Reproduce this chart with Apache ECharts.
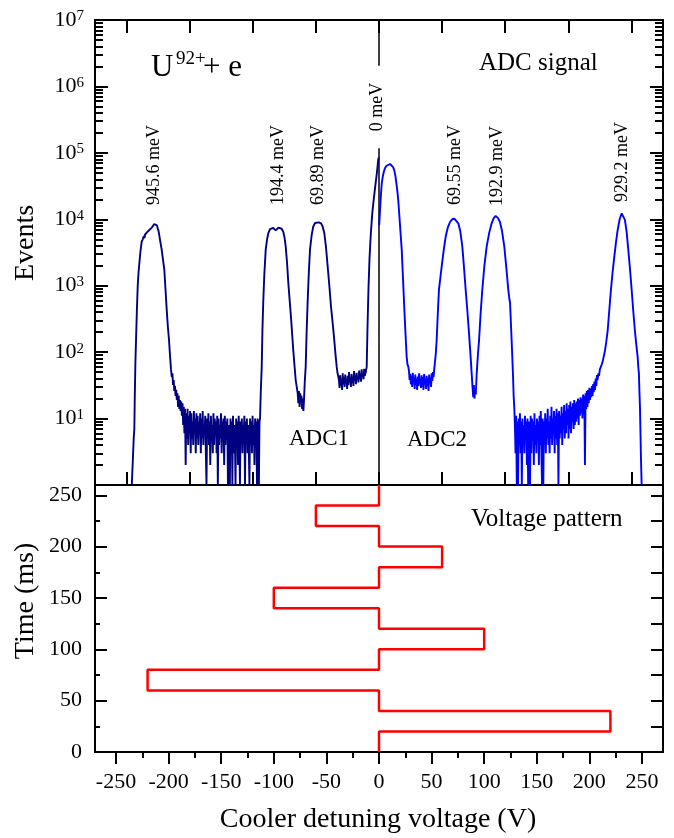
<!DOCTYPE html>
<html>
<head>
<meta charset="utf-8">
<style type="text/css">
body{margin:0; background:#fff}
#chart{width:674px; height:838px}
</style>
</head>
<body>
<div id="chart"></div>
<script src="https://cdn.jsdelivr.net/npm/echarts@6.0.0/dist/echarts.min.js"></script>
<script type="text/javascript">
// ADC1 spectrum (cooler detuning voltage V, events)
var adc1Rise = [[-235,1],[-233.8,1],[-233.2,5],[-232.6,7],[-232.2,20],[-231.6,70],[-231.0,150],[-230.2,420],
  [-229.4,980],[-228.6,1600],[-227.8,2200],[-226.8,3300],[-225.6,4600],[-224.6,5000],[-223.6,5600],[-223.0,5200],
  [-222.4,5900],[-221.4,6100],[-220.4,6400],[-219.2,6500],[-218.4,6900],[-217.2,7000],[-216.0,7500],[-214.8,8000],
  [-213.6,8500],[-212.9,8700],[-212.2,8300],[-211.2,8100],[-210.4,7300],[-209.6,6700],[-208.6,5400],[-207.6,4300],
  [-206.6,3500],[-205.4,2500],[-204.1,1740],[-203.0,900],[-201.8,430],[-200.8,250],[-199.6,150],[-198.6,85],
  [-197.7,54],[-197.0,42],[-196.4,48],[-195.8,32],[-195.2,38],[-194.6,26],[-194.0,31],[-193.4,22],[-192.8,27],
  [-192.2,19],[-191.6,24],[-191.0,15],[-190.4,22],[-189.8,14],[-189.2,19],[-188.6,13],[-188.0,18],[-187.4,11],
  [-186.8,17],[-186.2,8],[-185.6,15],[-185.0,6],[-184.4,14]];
var adc1FloorStart = -183.8;
var adc1Floor = [2,12,5,14,4,11,6,13,3,12,5,9,4,13,6,10,3,12,5,11,4,9,6,12,3,10,5,13,4,8,6,11,3,1,10,5,12,4,9,2,
  11,5,8,3,12,4,10,6,9,3,11,1,10,4,8,5,12,3,9,6,10,2,11,4,9,5,10,1,8,4,1,10,5,9,1,11,3,8,5,1,10,4,9,2,11,5,1,9,4,
  10,3,8,6,11,1,9,5,10,3,8,4,1,10,5,9,3,11,4,8,2,10,5,9,1,10,4,1,9];
var adc1Peaks = [[-113.1,10],[-112.4,25],[-111.5,60],[-110.8,220],[-110.0,600],[-109.0,1500],[-107.7,3500],
  [-106.4,5000],[-105.2,6200],[-103.6,7100],[-102.0,7600],[-100.6,7400],[-99.4,7000],[-98.2,6800],[-97.0,7100],
  [-95.6,7500],[-94.1,7600],[-92.6,7200],[-91.0,6500],[-89.8,5300],[-88.7,3900],[-87.4,2200],[-86.2,1100],
  [-85.0,620],[-83.7,340],[-82.6,190],[-81.5,107],[-80.3,62],[-79.2,38],[-78.2,30],[-77.3,24],[-76.7,17],
  [-76.1,26],[-75.5,15],[-74.9,24],[-74.3,18],[-73.7,22],[-73.1,14],[-72.5,20],[-71.9,13],[-71.3,19],[-70.6,35],
  [-69.7,60],[-68.8,200],[-67.8,600],[-66.7,1600],[-65.6,3500],[-64.0,5800],[-62.5,7800],[-60.8,8800],[-59.2,9100],
  [-57.2,9000],[-55.1,8700],[-53.6,7800],[-52.0,6200],[-50.4,3800],[-48.8,1950],[-47.2,1000],[-45.6,480],
  [-44.0,270],[-42.5,150],[-41.3,90],[-40.2,60],[-39.4,48],[-38.7,43]];
var adc1ShelfStart = -38.1;
var adc1Shelf = [38,29,45,31,40,27,48,33,42,30,46,35,39,28,44,32,50,36,41,30,47,34,43,31,52,37,45,33,49,38,44,35,
  53,40,47,36,55,42,48,39,56,44];
var adc1Center = [[-12.6,50],[-11.7,60],[-10.9,250],[-10.0,900],[-9.0,2600],[-7.8,6000],[-6.4,12300],
  [-5.0,20000],[-3.5,32000],[-2.0,50000],[-0.7,80000],[-0.2,85000]];

// ADC2 spectrum
var adc2Center = [[0.2,8200],[1.0,14000],[1.8,23000],[2.6,34700],[3.6,44000],[4.6,52000],[5.7,59000],[7.2,64000],
  [8.8,67000],[10.5,68000],[12.2,66000],[13.4,61000],[14.5,55000],[15.6,45000],[16.6,34000],[17.5,26000],
  [18.3,19500],[19.4,11000],[20.5,6200],[21.6,3500],[22.8,1300],[24.0,480],[25.2,190],[26.3,85],[27.1,65],[27.9,60]];
var adc2ShelfStart = 28.5;
var adc2Shelf = [52,38,47,33,44,30,49,35,41,28,46,32,40,27,43,31,48,34,39,29,45,30,42,27,47,33,38,28,44,31,40,26,
  46,34,41,30,48,37,50,42,55];
var adc2Peaks = [[53.2,58],[54.0,95],[54.8,150],[55.9,380],[57.0,870],[58.3,1300],[59.6,1950],[61.5,3400],
  [63.4,5500],[65.4,7500],[67.5,9100],[69.6,10000],[71.6,10200],[73.5,9800],[75.4,8700],[77.3,6600],[79.2,3900],
  [80.8,1900],[82.4,870],[84.0,420],[85.6,190],[86.9,95],[88.1,48],[88.9,30],[89.6,21],[90.2,32],[90.8,20],
  [91.4,28],[92.0,23],[92.9,48],[94.0,90],[95.1,150],[96.6,380],[98.2,870],[100.2,2000],[102.4,3900],[104.8,6300],
  [107.1,8700],[109.0,10400],[110.9,11200],[113.0,10500],[115.0,9100],[117.0,6600],[119.1,3900],[121.0,1900],
  [122.9,870],[124.0,620],[124.6,560],[125.3,300],[126.1,150],[127.4,45],[128.0,22],[128.6,15]];
var adc2FloorStart = 129.2;
var adc2Floor = [8,3,11,1,9,1,10,4,12,3,9,1,10,4,8,3,11,5,9,2,10,1,9,4,1,11,3,10,5,9,2,12,4,8,3,10,5,9,2,11,4,13,
  3,1,10,1,9,4,12,3,10,5,14,4,9,3,11,5,15,4,10,6,13,3,11,5,14,4,12,1,13,5,11,6,15,4,12,7,16,5,13,6,17,8,14,5,16,7,
  18,6,15,9,17,7,19,8];
var adc2Tail = [[186.8,17],[187.4,9],[188.0,18],[188.6,10],[189.2,20],[189.8,8],[190.4,19],[191.0,11],[191.6,21],
  [192.2,12],[192.8,20],[193.4,10],[194.0,23],[194.6,12],[195.2,22],[195.8,2],[196.4,24],[197.0,14],[197.6,26],
  [198.2,15],[198.8,27],[199.4,17],[200.0,29],[200.6,19],[201.2,28],[201.8,21],[202.4,31],[203.0,22],[203.6,33],
  [204.2,25],[204.8,36],[205.4,27],[206.0,40],[206.6,31],[207.2,45],[207.8,38],[208.5,48],[209.2,44],[210.0,55],
  [210.8,52],[211.7,65],[212.6,72],[213.6,85],[214.8,105],[216.0,140],[217.4,210],[218.9,420],[220.5,870],
  [222.1,1600],[223.7,2750],[225.3,4500],[226.9,6900],[228.8,10000],[230.7,12300],[232.3,11700],[233.8,9800],
  [235.4,6500],[237.0,3500],[238.6,1800],[240.2,870],[241.7,420],[243.3,210],[244.6,130],[245.9,85],[246.5,60],
  [247.1,48],[247.6,25],[248.1,15],[248.6,6],[249.0,2.7],[249.7,1]];

// voltage pattern (V vs ms)
var patternVolt = [0,0,220,220,0,0,-220,-220,0,0,100,100,0,0,-100,-100,0,0,60,60,0,0,-60,-60,0,0];
var patternTime = [0,20,20,40,40,60,60,80,80,100,100,120,120,140,140,160,160,180,180,200,200,220,220,240,240,260];

// tick labels
var topTicks = [-240,-180,-120,-60,0,60,120,180,240];
var xMajor = [-250,-200,-150,-100,-50,0,50,100,150,200,250];
var xMinor = [-225,-175,-125,-75,-25,25,75,125,175,225];
var tMajor = [0,50,100,150,200,250];
var tMinor = [25,75,125,175,225];
var tAll = [0,25,50,75,100,125,150,175,200,225,250];
var decades = [0,1,2,3,4,5,6,7];

var FONT = 'Liberation Serif';

function channels(start, step, counts) {
    return counts.map(function (c, i) { return [+(start + i * step).toFixed(2), c]; });
}
function toLog(pts) {
    return pts.map(function (p) { return [p[0], Math.log10(p[1])]; });
}
var adc1 = [].concat(adc1Rise, channels(adc1FloorStart, 0.6, adc1Floor), adc1Peaks,
    channels(adc1ShelfStart, 0.6, adc1Shelf), adc1Center);
var adc2 = [].concat(adc2Center, channels(adc2ShelfStart, 0.6, adc2Shelf), adc2Peaks,
    channels(adc2FloorStart, 0.6, adc2Floor), adc2Tail);
var pattern = patternVolt.map(function (v, i) { return [v, patternTime[i]]; });

var logMinor = [];
for (var k = 0; k < 7; k++) {
    for (var m = 2; m <= 9; m++) logMinor.push(k + Math.log10(m));
}

function axis(grid, pos, min, max, tick, label) {
    return {
        type: 'value', gridIndex: grid, position: pos, min: min, max: max,
        axisLine: {show: tick.line !== false, onZero: false, lineStyle: {color: '#000', width: 2}},
        axisTick: {show: true, inside: tick.inside !== false, length: tick.length, customValues: tick.values,
            lineStyle: {color: '#000', width: tick.width || 2}},
        axisLabel: label || {show: false},
        splitLine: {show: false}
    };
}

var chart = echarts.init(document.getElementById('chart'));

var logLabel = {
    show: true, customValues: decades, margin: 11,
    formatter: function (v) { return v === 0 ? '' : '{b|10}{s|' + Math.round(v) + '}'; },
    rich: {
        b: {fontSize: 22, fontFamily: FONT, color: '#000'},
        s: {fontSize: 15, fontFamily: FONT, color: '#000', verticalAlign: 'top'}
    }
};

function txt(t, x, y, size, opt) {
    opt = opt || {};
    return {
        type: 'text', x: x, y: y, z: 100, rotation: opt.rot || 0,
        style: {
            text: t, font: size + 'px "' + FONT + '"', fill: '#000',
            textAlign: opt.align || 'left', align: opt.align || 'left',
            textVerticalAlign: 'middle', verticalAlign: 'middle',
            backgroundColor: opt.bg, padding: opt.pad
        }
    };
}
var R = Math.PI / 2;

option = {
    animation: false,
    backgroundColor: '#fff',
    grid: [
        {left: 95, right: 11, top: 20, height: 465},
        {left: 95, right: 11, top: 485, height: 267}
    ],
    xAxis: [
        axis(0, 'bottom', -270, 270, {length: 13, values: topTicks}),
        axis(0, 'top', -270, 270, {length: 13, values: topTicks}),
        axis(1, 'bottom', -270, 270, {inside: false, length: 12, values: xMajor},
            {show: true, customValues: xMajor, margin: 19, fontSize: 22, fontFamily: FONT, color: '#000'}),
        axis(1, 'bottom', -270, 270, {inside: false, length: 6, values: xMinor, line: false})
    ],
    yAxis: [
        axis(0, 'left', 0, 7, {length: 13, values: decades}, logLabel),
        axis(0, 'left', 0, 7, {length: 8, values: logMinor, line: false}),
        axis(0, 'right', 0, 7, {length: 13, values: decades}),
        axis(0, 'right', 0, 7, {length: 8, values: logMinor, line: false}),
        axis(1, 'left', 0, 260, {length: 12, values: tMajor},
            {show: true, customValues: tMajor, margin: 13, fontSize: 22, fontFamily: FONT, color: '#000'}),
        axis(1, 'left', 0, 260, {length: 5, values: tMinor, line: false}),
        axis(1, 'right', 0, 260, {length: 12, values: tAll})
    ],
    series: [
        {
            name: 'zero', type: 'line', xAxisIndex: 0, yAxisIndex: 0, data: [[0, 0], [0, 7]],
            showSymbol: false, symbol: 'none', lineStyle: {color: '#000', width: 1.5}, z: 1
        },
        {
            name: 'ADC1', type: 'line', xAxisIndex: 0, yAxisIndex: 0, data: toLog(adc1),
            showSymbol: false, symbol: 'none', lineStyle: {color: '#000080', width: 1.9}
        },
        {
            name: 'ADC2', type: 'line', xAxisIndex: 0, yAxisIndex: 0, data: toLog(adc2),
            showSymbol: false, symbol: 'none', lineStyle: {color: '#0000FF', width: 1.9}
        },
        {
            name: 'pattern', type: 'line', xAxisIndex: 2, yAxisIndex: 4, data: pattern,
            showSymbol: false, symbol: 'none', lineStyle: {color: '#FF0000', width: 2.5}
        }
    ],
    graphic: [
        txt('U', 151, 67.5, 31),
        txt('92+', 176, 58.6, 19),
        txt('+ e', 203, 67.5, 31),
        txt('ADC signal', 479, 63.6, 25),
        txt('ADC1', 289, 439, 23),
        txt('ADC2', 407, 440, 23),
        txt('Voltage pattern', 471, 519.6, 25),
        txt('945.6 meV', 154, 165, 18, {rot: R, align: 'center'}),
        txt('194.4 meV', 278, 165, 18, {rot: R, align: 'center'}),
        txt('69.89 meV', 318, 165, 18, {rot: R, align: 'center'}),
        txt('0 meV', 377.5, 107, 18, {rot: R, align: 'center', bg: '#fff', pad: [0, 17, 0, 17]}),
        txt('69.55 meV', 455, 165, 18, {rot: R, align: 'center'}),
        txt('192.9 meV', 497, 166, 18, {rot: R, align: 'center'}),
        txt('929.2 meV', 622, 162, 18, {rot: R, align: 'center'}),
        txt('Events', 26, 243, 28, {rot: R, align: 'center'}),
        txt('Time (ms)', 26, 601, 28, {rot: R, align: 'center'}),
        txt('Cooler detuning voltage (V)', 378, 820, 28, {align: 'center'})
    ]
};

if (option && typeof option === "object") {
    chart.setOption(option, true);
}
</script>
</body>
</html>
